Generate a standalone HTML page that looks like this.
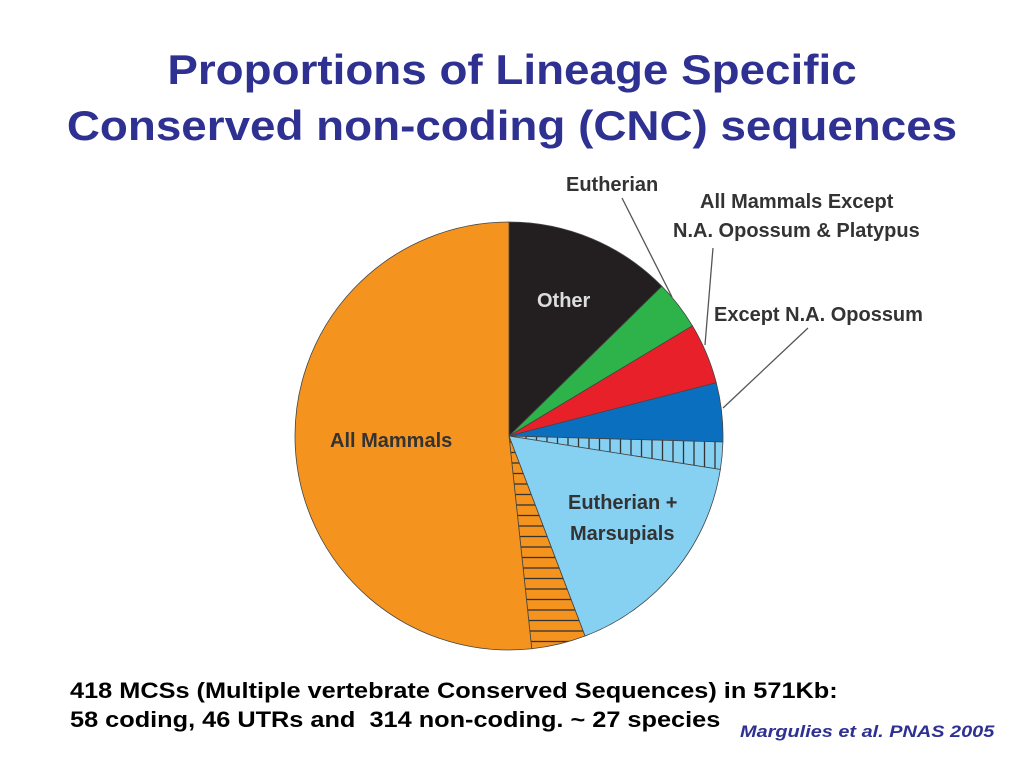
<!DOCTYPE html>
<html><head><meta charset="utf-8"><style>
body{margin:0;width:1024px;height:768px;background:#fff;overflow:hidden;font-family:"Liberation Sans",sans-serif;position:relative}
.t{position:absolute;left:0;width:1024px;text-align:center;color:#2e3192;font-weight:bold;font-size:42px;line-height:56px;transform:scaleX(1.09);transform-origin:512px 0}
.b{position:absolute;left:70px;font-weight:bold;font-size:22px;color:#000;transform:scaleX(1.15);transform-origin:0 0;white-space:nowrap}
</style></head><body>
<div class="t" style="top:42px">Proportions of Lineage Specific<br>Conserved non-coding (CNC) sequences</div>
<svg id="pie" width="1024" height="768" style="position:absolute;left:0;top:0">
<defs>
<pattern id="vh" width="10.5" height="10" patternUnits="userSpaceOnUse"><rect width="10.5" height="10" fill="#86d0f2"/><line x1="1" y1="0" x2="1" y2="10" stroke="#333" stroke-width="1.3"/></pattern>
<pattern id="hh" width="10" height="10.5" patternUnits="userSpaceOnUse"><rect width="10" height="10.5" fill="#f4941e"/><line x1="0" y1="1" x2="10" y2="1" stroke="#333" stroke-width="1.3"/></pattern>
</defs>
<g id="slices"></g>
<g font-family="Liberation Sans, sans-serif" font-weight="bold" font-size="20" fill="#333">
<text x="330" y="447">All Mammals</text>
<text x="537" y="307" fill="#ddd">Other</text>
<text x="568" y="509">Eutherian +</text>
<text x="570" y="540">Marsupials</text>
<text x="566" y="191">Eutherian</text>
<text x="700" y="208">All Mammals Except</text>
<text x="673" y="237">N.A. Opossum &amp; Platypus</text>
<text x="714" y="321">Except N.A. Opossum</text>
</g>
<g stroke="#555" stroke-width="1.3">
<line x1="622" y1="198" x2="672" y2="297"/>
<line x1="713" y1="248" x2="705" y2="345"/>
<line x1="808" y1="328" x2="723" y2="408"/>
</g>
</svg>
<div class="b" style="top:678px">418 MCSs (Multiple vertebrate Conserved Sequences) in 571Kb:</div>
<div class="b" style="top:707px">58 coding, 46 UTRs and&nbsp; 314 non-coding. ~ 27 species</div>
<div style="position:absolute;left:740px;top:722px;color:#2e3192;font-weight:bold;font-style:italic;font-size:17px;transform:scaleX(1.17);transform-origin:0 0;white-space:nowrap">Margulies et al. PNAS 2005</div>
<script>
const categories=["Other","Eutherian","All Mammals Except N.A. Opossum & Platypus","Except N.A. Opossum","Hatched (vertical)","Eutherian + Marsupials","Hatched (horizontal)","All Mammals"];
const values=[45.6,13.4,16.6,16.0,7.4,60.2,14.7,186.1];
const fills=["#231f20","#2db34a","#e8202a","#0b6fc0","url(#vh)","#86d0f2","url(#hh)","#f4941e"];
const cx=509,cy=436,r=214;
const total=values.reduce((a,b)=>a+b,0);
const g=document.getElementById('slices');
let a0=0;
function pt(a){const t=a/total*2*Math.PI;return [cx+r*Math.sin(t),cy-r*Math.cos(t)];}
values.forEach((v,i)=>{
  const a1=a0+v;const p0=pt(a0),p1=pt(a1);
  const large=(v/total>0.5)?1:0;
  const p=document.createElementNS('http://www.w3.org/2000/svg','path');
  p.setAttribute('d',`M${cx},${cy}L${p0[0]},${p0[1]}A${r},${r} 0 ${large} 1 ${p1[0]},${p1[1]}Z`);
  p.setAttribute('fill',fills[i]);
  p.setAttribute('stroke','#444');p.setAttribute('stroke-width','0.8');
  
  
  g.appendChild(p);a0=a1;
});
</script>
</body></html>
